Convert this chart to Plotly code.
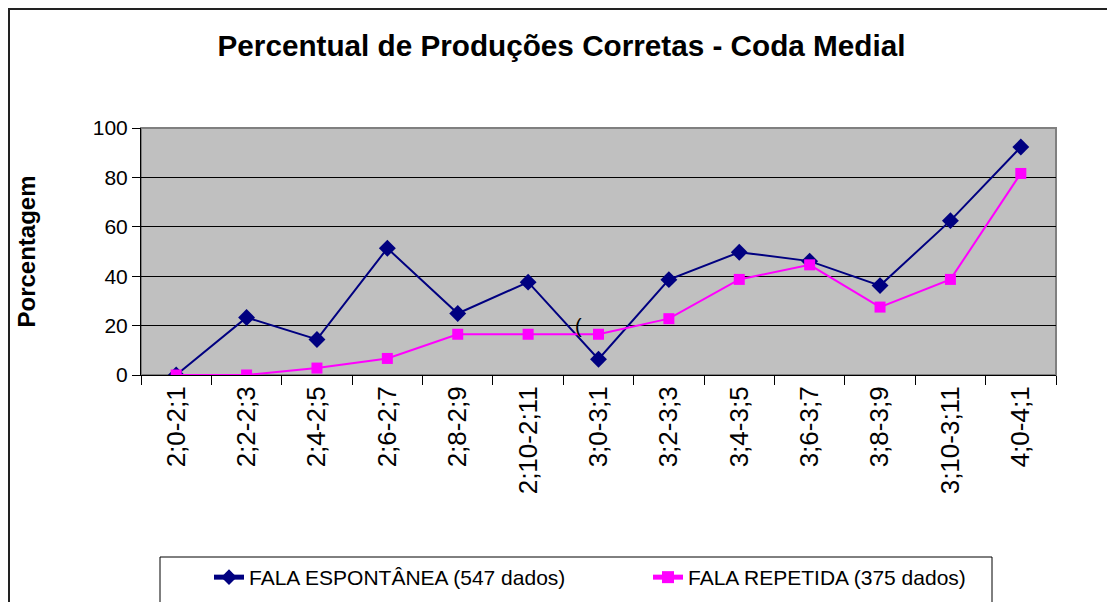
import plotly.graph_objects as go

categories = ["2;0-2;1", "2;2-2;3", "2;4-2;5", "2;6-2;7", "2;8-2;9", "2;10-2;11",
              "3;0-3;1", "3;2-3;3", "3;4-3;5", "3;6-3;7", "3;8-3;9", "3;10-3;11", "4;0-4;1"]
espontanea = [0, 23.3, 14.4, 51.3, 24.9, 37.6, 6.4, 38.6, 49.7, 46.1, 36.2, 62.5, 92.3]
repetida = [0, 0, 2.8, 6.7, 16.5, 16.5, 16.5, 22.8, 38.7, 44.6, 27.5, 38.7, 81.6]
y_ticks = [0, 20, 40, 60, 80, 100]

OFF = 8  # page body margin
W, H = 1115 - OFF, 602 - OFF
# plot area in screen pixels: x 141..1056, y 128..375
L, T = 141 - OFF, 128 - OFF
pw, ph = 1056 - 141, 375 - 128
R, B = W - L - pw, H - T - ph

def px(x):
    return (x - OFF - L) / pw

def py(y):
    return (T + ph - (y - OFF)) / ph

FONT = "Liberation Sans, Arial, sans-serif"

fig = go.Figure()
fig.add_trace(go.Scatter(
    x=categories, y=espontanea, mode="lines+markers",
    name="FALA ESPONTÂNEA (547 dados)",
    line=dict(color="#000080", width=2),
    marker=dict(symbol="diamond", size=13, color="#000080"),
))
fig.add_trace(go.Scatter(
    x=categories, y=repetida, mode="lines+markers",
    name="FALA REPETIDA (375 dados)",
    line=dict(color="#FF00FF", width=2),
    marker=dict(symbol="square", size=11, color="#FF00FF"),
))

fig.update_layout(
    width=W, height=H,
    margin=dict(l=L, r=R, t=T, b=B, autoexpand=False),
    paper_bgcolor="white", plot_bgcolor="#C0C0C0",
    font=dict(family=FONT, color="black", size=21),
    title=dict(text="<b>Percentual de Produções Corretas - Coda Medial</b>",
               x=0.5, xanchor="center", y=1 - (46 - OFF) / H, yanchor="middle",
               font=dict(size=29.7, family=FONT, color="black")),
    showlegend=True,
    legend=dict(orientation="h", x=px(209), y=py(557), xanchor="left", yanchor="top",
                borderwidth=0, bgcolor="rgba(0,0,0,0)",
                font=dict(size=21, family=FONT), entrywidth=394,
                itemsizing="constant"),
    xaxis=dict(type="category", tickson="boundaries", ticks="outside", ticklen=9,
               tickcolor="black", tickwidth=1, tickangle=-90,
               tickfont=dict(size=26, family=FONT),
               showline=True, linecolor="black", linewidth=1, showgrid=False,
               range=[-0.5, len(categories) - 0.5]),
    yaxis=dict(range=[0, 100], tickvals=y_ticks, ticks="outside", ticklen=8,
               tickcolor="black", showline=True, linecolor="black", linewidth=1,
               showgrid=True, gridcolor="black", gridwidth=1, zeroline=False,
               tickfont=dict(size=21, family=FONT),
               title=dict(text="<b>Porcentagem</b>", font=dict(size=24, family=FONT),
                          standoff=50)),
    shapes=[
        dict(type="rect", xref="paper", yref="paper", x0=0, x1=1, y0=0, y1=1,
             line=dict(color="#808080", width=2), layer="below"),
        dict(type="rect", xref="paper", yref="paper", x0=px(9), x1=px(1130),
             y0=py(630), y1=py(9), line=dict(color="#222222", width=2)),
        dict(type="rect", xref="paper", yref="paper", x0=px(160), x1=px(992),
             y0=py(630), y1=py(557), line=dict(color="black", width=1),
             fillcolor="white", layer="below"),
    ],
    annotations=[
        dict(x=5.72, y=20, xref="x", yref="y", text="(", showarrow=False,
             font=dict(size=20, family=FONT, color="black")),
    ],
)

fig.write_html("out.html")
